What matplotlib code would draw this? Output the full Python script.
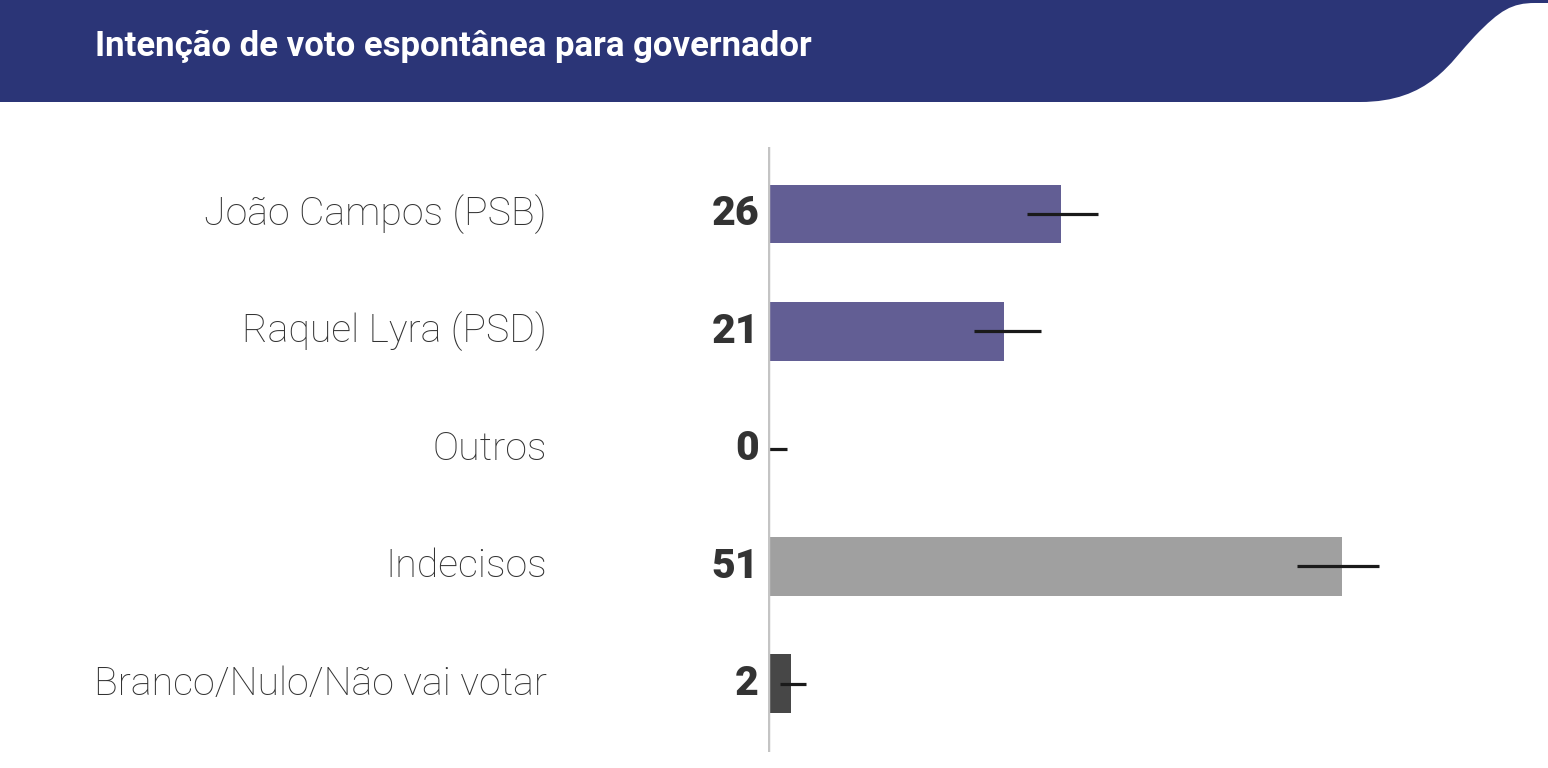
import matplotlib.pyplot as plt
import matplotlib.transforms as mtransforms
from matplotlib.path import Path
from matplotlib.patches import PathPatch

# dados
categorias = ["João Campos (PSB)", "Raquel Lyra (PSD)", "Outros", "Indecisos",
              "Branco/Nulo/Não vai votar"]
valores = [26, 21, 0, 51, 2]
ic_min = [23.0, 18.3, 0.0, 47.0, 1.1]
ic_max = [29.3, 24.3, 1.7, 54.3, 3.4]
cores = ["#625e94", "#625e94", "#625e94", "#a0a0a0", "#474747"]

W, H = 1548, 768
fig = plt.figure(figsize=(W / 100, H / 100), dpi=100)
fig.patch.set_facecolor("white")

# faixa do titulo com curva a direita (coordenadas em pixels, y a partir do topo)
def px(x, y):
    return (x / W, 1 - y / H)

verts = [px(0, 0), px(0, 102), px(1360, 102),
         px(1430, 102), px(1450, 62), px(1475, 36),
         px(1500, 10), px(1512, 3), px(1535, 3),
         px(1548, 3), px(1548, 0), px(0, 0)]
codes = [Path.MOVETO, Path.LINETO, Path.LINETO,
         Path.CURVE4, Path.CURVE4, Path.CURVE4,
         Path.CURVE4, Path.CURVE4, Path.CURVE4,
         Path.LINETO, Path.LINETO, Path.CLOSEPOLY]
header = PathPatch(Path(verts, codes), facecolor="#2b3577", edgecolor="none",
                   transform=fig.transFigure)
fig.patches.append(header)
fig.text(95 / W, 1 - 46 / H, "Intenção de voto espontânea para governador",
         color="white", fontsize=25, fontweight="bold", family="Roboto",
         va="center", ha="left")

# eixo
ax_left = 768 / W
xmax = 62
ax_right = (768 + xmax * 11.25) / W
ax = fig.add_axes([ax_left, 1 - 752 / H, ax_right - ax_left, (752 - 147) / H])
ax.set_xlim(0, xmax)
ax.set_ylim(4.58, -0.57)
ax.axis("off")

y = list(range(len(categorias)))
ax.barh(y, valores, height=0.5, color=cores, zorder=2)
err_lo = [v - lo for v, lo in zip(valores, ic_min)]
err_hi = [hi - v for v, hi in zip(valores, ic_max)]
ax.errorbar(valores, y, xerr=[err_lo, err_hi], fmt="none", ecolor="#1a1a1a",
            elinewidth=2.3, capsize=0, zorder=3)
ax.axvline(0, color="#c4c4c4", lw=2.5, zorder=4)

tr = mtransforms.blended_transform_factory(fig.transFigure, ax.transData)
for yi, cat, v in zip(y, categorias, valores):
    ax.text(547 / W, yi, cat, transform=tr, ha="right", va="center",
            fontsize=28.3, fontweight="light", family="Roboto", color="#333333")
    ax.text(759 / W, yi, str(v), transform=tr, ha="right", va="center",
            fontsize=29.5, fontweight="heavy", family="Roboto", color="#333333")

fig.savefig("out.png", dpi=100)
